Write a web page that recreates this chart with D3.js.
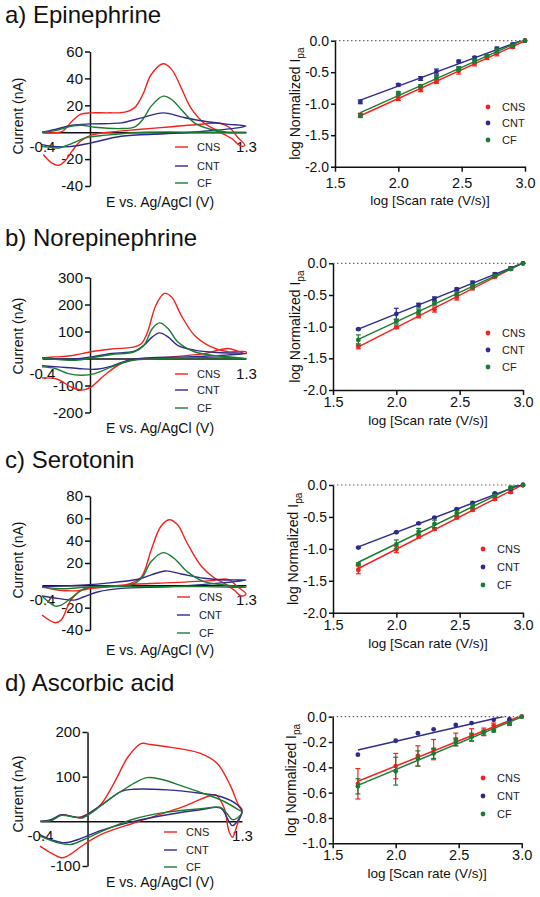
<!DOCTYPE html>
<html><head><meta charset="utf-8">
<script src="https://cdn.jsdelivr.net/npm/d3@7/dist/d3.min.js"></script>
<style>body{margin:0;background:#fff}svg{display:block;font-family:"Liberation Sans",Arial,sans-serif}</style>
</head><body><svg id="c" width="540" height="897"></svg>
<script>
// ---------- DATA ----------
const seriesNames = ["CNS", "CNT", "CF"];
const titles = ["a) Epinephrine", "b) Norepinephrine", "c) Serotonin", "d) Ascorbic acid"];
const cvXLabel = "E vs. Ag/AgCl (V)";
const cvYLabel = "Current (nA)";
const lgXLabel = "log [Scan rate (V/s)]";
const cvXTicks = [-0.4, 1.3];
const cvYTicksA = [60, 40, 20, -20, -40];
const cvYTicksB = [300, 200, 100, -100, -200];
const cvYTicksC = [80, 60, 40, 20, -20, -40];
const cvYTicksD = [200, 100, -100];
const lgXTicks = [1.5, 2.0, 2.5, 3.0];
const lgYTicks2 = [0, -0.5, -1.0, -1.5, -2.0];
const lgYTicks1 = [0, -0.2, -0.4, -0.6, -0.8, -1.0];

// cyclic voltammograms [E (V), I (nA)] : forward then reverse scan
const cvEpiCNS = [[-0.40,0],[-0.32,-0.5],[-0.23,0.7],[-0.15,8.2],[-0.08,13.2],[0.01,14.4],[0.15,14.4],[0.29,14.9],[0.37,18.1],[0.44,28],[0.51,42.9],[0.61,50.9],[0.68,46.7],[0.76,33],[0.84,18.1],[0.95,6.9],[1.06,1.2],[1.18,-4.7],[1.26,-10.4],[1.29,-9.7],[1.23,-3.7],[1.16,3.7],[1.08,6.7],[0.90,5.7],[0.68,4],[0.40,2],[0.18,0.2],[0.01,-2.2],[-0.08,-6.7],[-0.15,-14.1],[-0.21,-21.6],[-0.26,-24.6],[-0.32,-22.8],[-0.39,-16.6]];
const cvEpiCNT = [[-0.40,0],[-0.29,2],[-0.15,5.2],[0.01,6.2],[0.26,6.9],[0.43,10.7],[0.61,14.4],[0.76,11.4],[0.90,8.9],[1.12,6.2],[1.30,4.5],[1.23,3.2],[0.95,0.7],[0.62,-1.2],[0.26,-3],[0.01,-7.9],[-0.10,-9.9],[-0.21,-10.9],[-0.32,-10.4],[-0.40,-9.2]];
const cvEpiCF = [[-0.40,0],[-0.29,1.2],[-0.15,4.5],[-0.07,5.2],[0.04,3.7],[0.26,2.7],[0.37,3.7],[0.44,9.4],[0.51,19.4],[0.61,26.8],[0.68,24.3],[0.76,16.9],[0.87,6.9],[1.01,2],[1.15,0],[1.30,0],[0.95,0],[0.40,-0.2],[0.13,-2.2],[-0.04,-4.2],[-0.12,-7.2],[-0.21,-10.4],[-0.26,-11.7],[-0.40,-10.4]];

const cvNorCNS = [[-0.40,2.5],[-0.29,6],[-0.16,10],[0.01,25],[0.18,35],[0.37,43],[0.43,56],[0.48,99],[0.55,198],[0.62,241],[0.68,228],[0.76,160],[0.87,86],[1.01,43],[1.15,25],[1.30,25],[1.30,18],[1.15,37],[0.95,18],[0.68,6],[0.40,-2.5],[0.26,-18.5],[0.12,-62],[0.01,-105],[-0.07,-117],[-0.16,-105],[-0.27,-77],[-0.40,-72]];
const cvNorCNT = [[-0.40,2.5],[-0.16,-2.5],[0.01,6],[0.18,18.5],[0.37,27],[0.45,49],[0.52,80],[0.58,95],[0.65,80],[0.73,49],[0.87,31],[1.06,22],[1.30,18.5],[1.12,12],[0.81,6],[0.48,2.5],[0.32,-6],[0.18,-28],[0.04,-40],[-0.10,-37],[-0.27,-31],[-0.40,-27]];
const cvNorCF = [[-0.40,2.5],[-0.21,-6],[-0.10,-6],[0.01,2.5],[0.18,15],[0.37,25],[0.45,49],[0.52,111],[0.58,132],[0.65,111],[0.73,62],[0.87,25],[1.06,10],[1.30,0],[1.12,2.5],[0.81,2.5],[0.48,-2.5],[0.32,-10],[0.18,-31],[0.04,-56],[-0.07,-62],[-0.18,-56],[-0.29,-37],[-0.40,-31]];

const cvSerCNS = [[-0.40,-1.2],[-0.27,-4.2],[-0.10,-4.8],[0.01,-2.7],[0.18,-1.2],[0.34,1.8],[0.43,7.8],[0.51,31.7],[0.59,52.7],[0.66,58.7],[0.73,54.2],[0.81,37.7],[0.93,16.8],[1.04,6.3],[1.12,1.8],[1.20,-4.2],[1.26,-9.6],[1.30,-7.8],[1.23,-1.2],[1.15,5.4],[1.01,4.2],[0.68,2.4],[0.40,1.2],[0.18,-0.6],[0.01,-1.8],[-0.07,-4.2],[-0.16,-13.2],[-0.24,-31.1],[-0.29,-33.5],[-0.40,-26.6]];
const cvSerCNT = [[-0.40,-1.2],[-0.16,-0.3],[0.12,1.8],[0.40,5.4],[0.51,9.3],[0.63,12.9],[0.76,10.2],[0.95,6.3],[1.12,4.8],[1.30,4.8],[1.12,2.4],[0.68,-1.2],[0.26,-2.7],[0.07,-5.7],[-0.05,-10.2],[-0.13,-13.2],[-0.27,-11.7],[-0.40,-9.6]];
const cvSerCF = [[-0.40,-1.8],[-0.21,-3],[-0.05,-1.8],[0.12,-1.2],[0.34,0.3],[0.43,6.3],[0.51,21.3],[0.61,29.3],[0.70,24.3],[0.81,12.3],[0.95,3.3],[1.12,0.3],[1.30,-1.8],[0.95,-1.2],[0.54,-1.2],[0.18,-1.2],[0.01,-1.2],[-0.07,-4.2],[-0.16,-11.7],[-0.24,-17.7],[-0.29,-18.6],[-0.40,-9.6]];

const cvAscCNS = [[-0.40,0],[-0.31,1.5],[-0.22,14.8],[-0.17,13.3],[-0.08,8.9],[0.00,16.3],[0.11,37],[0.23,89],[0.34,144],[0.45,174],[0.53,172],[0.67,167],[0.81,161],[0.95,152],[1.09,130],[1.20,81],[1.27,37],[1.30,26],[1.26,-7.4],[1.22,-35.6],[1.19,-22.2],[1.15,29.6],[1.08,59.3],[1.01,55.6],[0.81,33.3],[0.56,11.1],[0.39,-3.7],[0.11,-29.6],[-0.03,-51.9],[-0.17,-77.8],[-0.22,-81.5],[-0.31,-70.4],[-0.40,-55.6]];
const cvAscCNT = [[-0.40,0],[-0.31,3.7],[-0.22,14.8],[-0.14,11.1],[-0.05,8.9],[0.03,20.7],[0.14,40.7],[0.28,66.7],[0.39,71.9],[0.67,70.4],[0.95,63],[1.12,55.6],[1.26,37],[1.30,20.7],[1.26,0],[1.22,-9.6],[1.19,0],[1.12,29.6],[0.95,25.9],[0.67,14.8],[0.39,0],[0.11,-20.7],[-0.08,-40.7],[-0.19,-48.1],[-0.31,-40.7],[-0.40,-29.6]];
const cvAscCF = [[-0.40,0],[-0.31,1.5],[-0.22,13.3],[-0.14,11.1],[-0.05,7.4],[0.03,18.5],[0.14,40.7],[0.28,66.7],[0.39,85.2],[0.50,97.8],[0.62,94.1],[0.81,77.8],[1.01,59.3],[1.15,44.4],[1.27,25.9],[1.30,20.7],[1.26,7.4],[1.22,3.7],[1.17,18.5],[1.12,31.1],[0.95,28.1],[0.67,20.7],[0.39,5.2],[0.11,-23.7],[-0.03,-40.7],[-0.14,-51.9],[-0.25,-48.1],[-0.40,-33.3]];

// log normalized Ipa vs log scan rate
const logRate = [1.7, 2.0, 2.176, 2.301, 2.477, 2.602, 2.699, 2.778, 2.903, 3.0];
const epiCNS = [-1.18,-0.91,-0.78,-0.65,-0.48,-0.36,-0.27,-0.20,-0.10,0];
const epiCNT = [-0.97,-0.70,-0.60,-0.49,-0.33,-0.27,null,-0.13,-0.06,0];
const epiCF  = [-1.19,-0.83,-0.72,-0.58,-0.44,-0.32,-0.24,-0.16,-0.08,0];
const epiCNSerr = [0.03,0.04,0.03,0.03,0.05,0.04,0.03,0.04,0.02,0];
const epiCNTerr = [0.03,0.02,0.03,0.04,0.02,0.02,null,0.03,0.02,0];
const epiCFerr  = [0.03,0.02,0.02,0.03,0.03,0.03,0.02,0.03,0.02,0];
const norCNS = [-1.31,-1.01,-0.83,-0.73,-0.54,-0.39,null,-0.21,-0.08,0];
const norCNT = [-1.04,-0.80,-0.66,-0.56,-0.41,-0.31,null,-0.17,-0.08,0];
const norCF  = [-1.21,-0.92,-0.76,-0.63,-0.48,-0.36,null,-0.20,-0.09,0];
const norCNSerr = [0.04,0.02,0.03,0.04,0.04,0.03,null,0.02,0.02,0];
const norCNTerr = [0.01,0.09,0.03,0.03,0.02,0.03,null,0.02,0.02,0];
const norCFerr  = [0.08,0.04,0.04,0.03,0.03,0.03,null,0.02,0.02,0];
const serCNS = [-1.33,-1.01,-0.80,-0.69,-0.51,-0.39,null,-0.22,-0.11,0];
const serCNT = [-0.98,-0.74,-0.60,-0.51,-0.38,-0.28,null,-0.13,-0.06,0];
const serCF  = [-1.24,-0.93,-0.73,-0.61,-0.44,-0.33,null,-0.17,-0.04,0];
const serCNSerr = [0.06,0.05,0.03,0.02,0.02,0.02,null,0.02,0.02,0];
const serCNTerr = [0.01,0.01,0.01,0.01,0.01,0.01,null,0.01,0.01,0];
const serCFerr  = [0.02,0.07,0.05,0.06,0.04,0.03,null,0.02,0.02,0];
const ascCNS = [-0.53,-0.39,-0.31,-0.26,-0.18,-0.145,-0.12,-0.07,-0.05,0];
const ascCNT = [-0.30,-0.19,-0.13,-0.10,-0.065,-0.05,null,-0.025,-0.02,null];
const ascCF  = [-0.55,-0.43,-0.33,-0.29,-0.20,-0.16,-0.125,-0.11,-0.05,0];
const ascCNSerr = [0.12,0.10,0.08,0.08,0.05,0.05,0.03,0.02,0.02,0];
const ascCNTerr = [0,0,0,0,0,0,null,0,0,null];
const ascCFerr  = [0.06,0.11,0.06,0.04,0.03,0.03,0.02,0.01,0.01,0];

// ---------- STYLE / LAYOUT ----------
const colors = ["#f2221d", "#2e2b8c", "#1c7b33"];
const FONT = '"Liberation Sans", Arial, sans-serif';
const panels = [
  {title: titles[0], titleY: 23, cv: [cvEpiCNS, cvEpiCNT, cvEpiCF], cvDom: [-40, 60], cvTicks: cvYTicksA,
   cvX: [42, 246], cvY: [186, 51.5], cvYTitleC: 116, cvXTitleY: 207, cvLegX: 175, cvLegY: [147, 166, 183],
   lg: [epiCNS, epiCNT, epiCF], lgErr: [epiCNSerr, epiCNTerr, epiCFerr], lgDom: [-2, 0], lgTicks: lgYTicks2,
   lgX: [335, 525], lgY: [166.7, 40.7], lgYTitleX: 301, lgTickY: 188, lgXTitleY: 205, lgLegX: 488, lgLegY: [107, 123, 140]},
  {title: titles[1], titleY: 246, cv: [cvNorCNS, cvNorCNT, cvNorCF], cvDom: [-200, 300], cvTicks: cvYTicksB,
   cvX: [42, 246], cvY: [412.5, 277.5], cvYTitleC: 336, cvXTitleY: 433, cvLegX: 175, cvLegY: [374, 390, 408],
   lg: [norCNS, norCNT, norCF], lgErr: [norCNSerr, norCNTerr, norCFerr], lgDom: [-2, 0], lgTicks: lgYTicks2,
   lgX: [333, 523], lgY: [390, 263.3], lgYTitleX: 301, lgTickY: 407, lgXTitleY: 425, lgLegX: 488, lgLegY: [333, 350, 367]},
  {title: titles[2], titleY: 468, cv: [cvSerCNS, cvSerCNT, cvSerCF], cvDom: [-40, 80], cvTicks: cvYTicksC,
   cvX: [42, 246], cvY: [630, 496], cvYTitleC: 560, cvXTitleY: 655, cvLegX: 177, cvLegY: [597, 615, 633],
   lg: [serCNS, serCNT, serCF], lgErr: [serCNSerr, serCNTerr, serCFerr], lgDom: [-2, 0], lgTicks: lgYTicks2,
   lgX: [333, 523], lgY: [612.7, 485], lgYTitleX: 299, lgTickY: 630, lgXTitleY: 648, lgLegX: 483, lgLegY: [549, 567, 585]},
  {title: titles[3], titleY: 691, cv: [cvAscCNS, cvAscCNT, cvAscCF], cvDom: [-100, 200], cvTicks: cvYTicksD,
   cvX: [40, 242], cvY: [866, 732], cvYTitleC: 794, cvXTitleY: 887, cvLegX: 164, cvLegY: [832, 850, 867],
   lg: [ascCNS, ascCNT, ascCF], lgErr: [ascCNSerr, ascCNTerr, ascCFerr], lgDom: [-1, 0], lgTicks: lgYTicks1,
   lgX: [332.7, 521.7], lgY: [843.3, 716.7], lgYTitleX: 297, lgTickY: 860, lgXTitleY: 878, lgLegX: 483, lgLegY: [778, 796, 814]}
];

const svg = d3.select("#c");
svg.append("rect").attr("width", 540).attr("height", 897).attr("fill", "#fff");

function styleAxis(g, fs) {
  g.selectAll("path.domain").attr("stroke", "#111").attr("stroke-width", 1.5);
  g.selectAll(".tick line").attr("stroke", "#111").attr("stroke-width", 1.5);
  g.selectAll("text").attr("font-family", FONT).attr("font-size", fs).attr("fill", "#111");
}

panels.forEach((p, pi) => {
  const root = svg.append("g");
  root.append("text").attr("x", 5).attr("y", p.titleY).attr("font-size", 24).attr("font-family", FONT)
    .attr("fill", "#111").text(p.title);

  // ----- CV plot -----
  const x = d3.scaleLinear().domain([-0.4, 1.3]).range(p.cvX);
  const y = d3.scaleLinear().domain(p.cvDom).range(p.cvY);
  const cv = root.append("g");
  const line = d3.line().x(d => x(d[0])).y(d => y(d[1])).curve(d3.curveCatmullRom.alpha(0.5));
  const ya = cv.append("g").attr("transform", `translate(${x(0)},0)`)
    .call(d3.axisLeft(y).tickValues(p.cvTicks).tickFormat(d => String(d)).tickSize(5).tickSizeOuter(0).tickPadding(2));
  styleAxis(ya, 15);
  const xa = cv.append("g").attr("transform", `translate(0,${y(0)})`)
    .call(d3.axisBottom(x).tickValues(cvXTicks).tickFormat(d => d.toFixed(1)).tickSize(0).tickSizeOuter(0));
  styleAxis(xa, 15);
  xa.selectAll("text").attr("y", 20).attr("dy", 0);
  p.cv.forEach((pts, si) => {
    cv.append("path").datum(pts).attr("d", line).attr("fill", "none")
      .attr("stroke", colors[si]).attr("stroke-width", 1.4);
  });
  cv.append("text").attr("transform", `translate(23,${p.cvYTitleC}) rotate(-90)`).attr("text-anchor", "middle")
    .attr("font-size", 14).attr("font-family", FONT).attr("fill", "#111").text(cvYLabel);
  cv.append("text").attr("x", 160).attr("y", p.cvXTitleY).attr("text-anchor", "middle")
    .attr("font-size", 14).attr("font-family", FONT).attr("fill", "#111").text(cvXLabel);
  seriesNames.forEach((n, si) => {
    cv.append("line").attr("x1", p.cvLegX).attr("x2", p.cvLegX + 13).attr("y1", p.cvLegY[si]).attr("y2", p.cvLegY[si])
      .attr("stroke", colors[si]).attr("stroke-width", 1.4);
    cv.append("text").attr("x", p.cvLegX + 22).attr("y", p.cvLegY[si] + 4).attr("font-size", 11)
      .attr("font-family", FONT).attr("fill", "#222").text(n);
  });

  // ----- log-log plot -----
  const lx = d3.scaleLinear().domain([1.5, 3.0]).range(p.lgX);
  const ly = d3.scaleLinear().domain(p.lgDom).range(p.lgY);
  const lg = root.append("g");
  const clipId = "clip" + pi;
  lg.append("clipPath").attr("id", clipId).append("rect")
    .attr("x", p.lgX[0]).attr("y", p.lgY[1]).attr("width", p.lgX[1] - p.lgX[0] + 2).attr("height", p.lgY[0] - p.lgY[1]);
  lg.append("line").attr("x1", lx(1.5)).attr("x2", lx(3.0)).attr("y1", ly(0)).attr("y2", ly(0))
    .attr("stroke", "#666").attr("stroke-width", 1.2).attr("stroke-dasharray", "1.5,2.5");
  const lya = lg.append("g").attr("transform", `translate(${p.lgX[0]},0)`)
    .call(d3.axisLeft(ly).tickValues(p.lgTicks).tickFormat(d => d.toFixed(1)).tickSize(4).tickSizeOuter(0).tickPadding(2));
  styleAxis(lya, 14);
  const lxa = lg.append("g").attr("transform", `translate(0,${p.lgY[0]})`)
    .call(d3.axisBottom(lx).tickValues(lgXTicks).tickFormat(d => d.toFixed(1)).tickSize(5).tickSizeOuter(0));
  styleAxis(lxa, 14.5);
  lxa.selectAll("text").attr("y", p.lgTickY - p.lgY[0]).attr("dy", 0);

  p.lg.forEach((vals, si) => {
    const pts = logRate.map((r, i) => ({x: r, y: vals[i], e: p.lgErr[si][i]})).filter(d => d.y !== null);
    // least-squares fit
    const mx = d3.mean(pts, d => d.x), my = d3.mean(pts, d => d.y);
    const slope = d3.sum(pts, d => (d.x - mx) * (d.y - my)) / d3.sum(pts, d => (d.x - mx) ** 2);
    const icpt = my - slope * mx;
    const [xa0, xa1] = d3.extent(pts, d => d.x);
    lg.append("line").attr("clip-path", `url(#${clipId})`)
      .attr("x1", lx(xa0)).attr("x2", lx(xa1)).attr("y1", ly(icpt + slope * xa0)).attr("y2", ly(icpt + slope * xa1))
      .attr("stroke", colors[si]).attr("stroke-width", 1.5);
    const eb = lg.append("g").attr("stroke", colors[si]).attr("stroke-width", 1.2);
    pts.filter(d => d.e > 0).forEach(d => {
      eb.append("line").attr("x1", lx(d.x)).attr("x2", lx(d.x)).attr("y1", ly(d.y - d.e)).attr("y2", ly(d.y + d.e));
      eb.append("line").attr("x1", lx(d.x) - 2.5).attr("x2", lx(d.x) + 2.5).attr("y1", ly(d.y - d.e)).attr("y2", ly(d.y - d.e));
      eb.append("line").attr("x1", lx(d.x) - 2.5).attr("x2", lx(d.x) + 2.5).attr("y1", ly(d.y + d.e)).attr("y2", ly(d.y + d.e));
    });
    lg.append("g").selectAll("circle").data(pts).join("circle")
      .attr("cx", d => lx(d.x)).attr("cy", d => ly(d.y)).attr("r", 2.4).attr("fill", colors[si]);
  });
  lg.append("text").attr("transform", `translate(${p.lgYTitleX - 1},${(p.lgY[0] + p.lgY[1]) / 2}) rotate(-90)`)
    .attr("text-anchor", "middle").attr("font-size", 14).attr("font-family", FONT).attr("fill", "#111")
    .call(t => {
      t.append("tspan").text("log Normalized I");
      t.append("tspan").attr("font-size", 10).attr("dy", 4).text("pa");
    });
  lg.append("text").attr("x", (p.lgX[0] + p.lgX[1]) / 2).attr("y", p.lgXTitleY).attr("text-anchor", "middle")
    .attr("font-size", 13.5).attr("font-family", FONT).attr("fill", "#111").text(lgXLabel);
  seriesNames.forEach((n, si) => {
    lg.append("circle").attr("cx", p.lgLegX).attr("cy", p.lgLegY[si]).attr("r", 2.4).attr("fill", colors[si]);
    lg.append("text").attr("x", p.lgLegX + 14).attr("y", p.lgLegY[si] + 4).attr("font-size", 11)
      .attr("font-family", FONT).attr("fill", "#222").text(n);
  });
});
</script></body></html>
